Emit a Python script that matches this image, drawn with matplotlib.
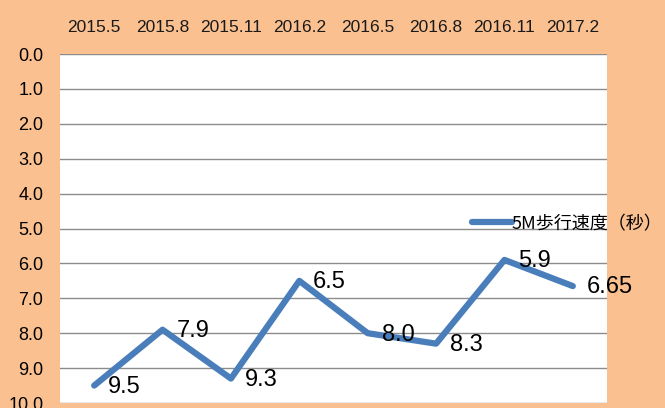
import matplotlib.pyplot as plt

periods = ['2015.5', '2015.8', '2015.11', '2016.2', '2016.5', '2016.8', '2016.11', '2017.2']
walk_5m = [9.5, 7.9, 9.3, 6.5, 8.0, 8.3, 5.9, 6.65]
labels = ['9.5', '7.9', '9.3', '6.5', '8.0', '8.3', '5.9', '6.65']
yticks = [0, 1, 2, 3, 4, 5, 6, 7, 8, 9, 10]

font = 'Liberation Sans'
bg = '#FAC090'
fig = plt.figure(figsize=(6.65, 4.08), dpi=100, facecolor=bg)
ax = fig.add_axes([60 / 665, 5 / 408, 547 / 665, 349 / 408])
ax.set_facecolor('white')

x = range(len(periods))
ax.plot(x, walk_5m, color='#4A7EBB', lw=4.5, solid_capstyle='round',
        solid_joinstyle='round', label='5M歩行速度（秒）', zorder=3)
# data labels, to the right of each point
for i, (v, t) in enumerate(zip(walk_5m, labels)):
    ax.annotate(t, (i, v), xytext=(10, -1), textcoords='offset points',
                ha='left', va='center', fontsize=17, family=font, zorder=4)

ax.set_xlim(-0.5, len(periods) - 0.5)
ax.set_ylim(10, 0)
ax.set_yticks(yticks)
ax.set_yticklabels([f'{v:.1f}' for v in yticks], family=font, fontsize=13)
ax.set_xticks(list(x))
ax.set_xticklabels(periods, family=font, fontsize=12.5, color='#1a1a1a')
ax.xaxis.tick_top()
ax.tick_params(axis='both', length=0)
ax.tick_params(axis='x', pad=14)
ax.tick_params(axis='y', pad=12)
ax.grid(axis='y', color='#8C8C8C', lw=1)
ax.set_axisbelow(True)
for s in ax.spines.values():
    s.set_visible(False)

leg = ax.legend(loc='upper left', bbox_to_anchor=(0.74, 0.56), frameon=False,
                prop={'family': ['Noto Sans CJK JP', 'DejaVu Sans'], 'size': 13},
                handlelength=2.2, handletextpad=0.0, borderaxespad=0)

fig.savefig('out.png', dpi=100, facecolor=bg)
